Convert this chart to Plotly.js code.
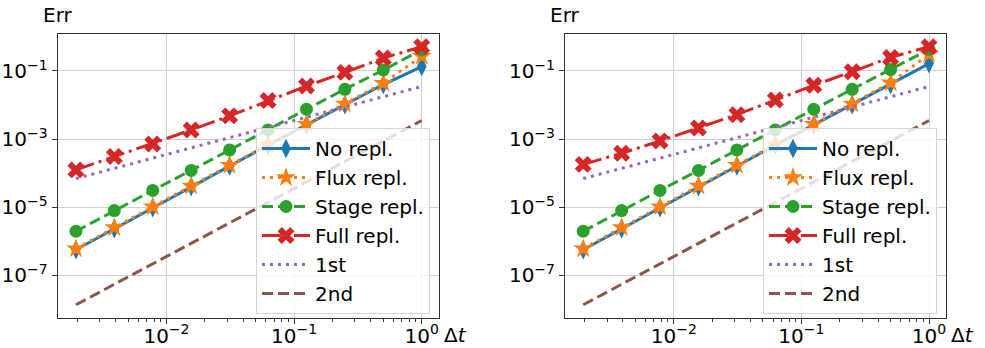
<!DOCTYPE html>
<html>
<head>
<meta charset="utf-8">
<script src="https://cdn.plot.ly/plotly-3.0.1.min.js"></script>
<style>html,body{margin:0;padding:0;background:#fff;}#chart{width:985px;height:348px;}</style>
</head>
<body>
<div id="chart"></div>
<script>
// ---- data ----
const dt = [0.001953125, 0.00390625, 0.0078125, 0.015625, 0.03125, 0.0625, 0.125, 0.25, 0.5, 1];

const noReplL    = [5.6e-7, 2.3e-6, 9.6e-6, 4.0e-5, 1.62e-4, 6.6e-4, 2.6e-3, 1.02e-2, 4.0e-2, 0.135];
const fluxReplL  = [6.0e-7, 2.5e-6, 1.02e-5, 4.2e-5, 1.7e-4, 6.8e-4, 2.7e-3, 1.08e-2, 4.4e-2, 0.27];
const stageReplL = [1.95e-6, 7.9e-6, 3.1e-5, 1.2e-4, 4.8e-4, 1.85e-3, 7.5e-3, 2.9e-2, 0.107, 0.42];
const fullReplL  = [1.24e-4, 3.05e-4, 7.2e-4, 1.85e-3, 4.8e-3, 1.35e-2, 3.6e-2, 9.1e-2, 0.24, 0.52];

const noReplR    = [5.6e-7, 2.3e-6, 9.6e-6, 4.0e-5, 1.62e-4, 6.6e-4, 2.6e-3, 1.02e-2, 4.0e-2, 0.165];
const fluxReplR  = [6.0e-7, 2.5e-6, 1.02e-5, 4.2e-5, 1.7e-4, 6.8e-4, 2.7e-3, 1.08e-2, 4.5e-2, 0.31];
const stageReplR = [1.95e-6, 7.9e-6, 3.1e-5, 1.2e-4, 4.8e-4, 1.85e-3, 7.5e-3, 2.9e-2, 0.11, 0.43];
const fullReplR  = [1.8e-4, 3.8e-4, 8.8e-4, 2.1e-3, 5.2e-3, 1.4e-2, 3.8e-2, 9.5e-2, 0.25, 0.52];

const firstOrder  = [6.9e-5, 1.38e-4, 2.75e-4, 5.5e-4, 1.1e-3, 2.2e-3, 4.4e-3, 8.8e-3, 1.76e-2, 3.5e-2];
const secondOrder = [1.35e-8, 5.4e-8, 2.15e-7, 8.6e-7, 3.4e-6, 1.37e-5, 5.5e-5, 2.2e-4, 8.8e-4, 3.5e-3];

const seriesNames = ["No repl.", "Flux repl.", "Stage repl.", "Full repl.", "1st", "2nd"];
const xTickVals = [0.01, 0.1, 1];
const xTickText = ["10<sup>\u22122</sup>", "10<sup>\u22121</sup>", "10<sup>0</sup>"];
const xMinorTicks = [0.002, 0.003, 0.004, 0.005, 0.006, 0.007, 0.008, 0.009,
                     0.02, 0.03, 0.04, 0.05, 0.06, 0.07, 0.08, 0.09,
                     0.2, 0.3, 0.4, 0.5, 0.6, 0.7, 0.8, 0.9];
const yTickVals = [1e-7, 1e-5, 1e-3, 1e-1];
const yTickText = ["10<sup>\u22127</sup>", "10<sup>\u22125</sup>", "10<sup>\u22123</sup>", "10<sup>\u22121</sup>"];
const yLabel = "Err";
const xLabel = "Δ<i>t</i>";

// ---- styles ----
const colors = ["#1f77b4", "#ff7f0e", "#2ca02c", "#d62728", "#9467bd", "#8c564b"];
const styles = [
  {line: {color: colors[0], width: 3, dash: "solid"}, marker: {symbol: "diamond-tall", size: 14, color: colors[0]}},
  {line: {color: colors[1], width: 3, dash: "3px,5px"}, marker: {symbol: "star", size: 15, color: colors[1]}},
  {line: {color: colors[2], width: 3, dash: "11px,5px"}, marker: {symbol: "circle", size: 13, color: colors[2]}},
  {line: {color: colors[3], width: 3, dash: "19px,5px,3px,5px"}, marker: {symbol: "x", size: 15, color: colors[3]}},
  {line: {color: colors[4], width: 3, dash: "3px,5px"}},
  {line: {color: colors[5], width: 3, dash: "11px,5px"}}
];

function mk(ys, xa, ya, leg) {
  return ys.map((y, i) => Object.assign({
    type: "scatter",
    x: dt, y: y,
    name: seriesNames[i],
    mode: styles[i].marker ? "lines+markers" : "lines",
    xaxis: xa, yaxis: ya,
    legend: leg,
    legendgroup: leg + "_" + i
  }, JSON.parse(JSON.stringify(styles[i]))));
}

const traces = []
  .concat(mk([noReplL, fluxReplL, stageReplL, fullReplL, firstOrder, secondOrder], "x", "y", "legend"))
  .concat(mk([noReplR, fluxReplR, stageReplR, fullReplR, firstOrder, secondOrder], "x2", "y2", "legend2"));

const font = {family: "DejaVu Sans", size: 20, color: "#000"};
const W = 985, H = 348;

function xax(domain, anchor) {
  return {
    type: "log", domain: domain, anchor: anchor,
    range: [-2.852, 0.133],
    tickmode: "array", tickvals: xTickVals, ticktext: xTickText,
    showgrid: true, gridcolor: "#d0d0d0", gridwidth: 1,
    zeroline: false,
    showline: true, linecolor: "#333", linewidth: 1, mirror: true,
    ticks: "outside", ticklen: 5, tickwidth: 1, tickcolor: "#333",
    ticklabelstandoff: -5,
    minor: {tickmode: "array", tickvals: xMinorTicks, ticks: "outside", ticklen: 3, tickwidth: 1, tickcolor: "#333", showgrid: false},
    tickfont: font
  };
}
function yax(domain, anchor) {
  return {
    type: "log", domain: domain, anchor: anchor,
    range: [-8.25, 0.078],
    tickmode: "array", tickvals: yTickVals, ticktext: yTickText,
    showgrid: true, gridcolor: "#d0d0d0", gridwidth: 1,
    zeroline: false,
    showline: true, linecolor: "#333", linewidth: 1, mirror: true,
    ticks: "outside", ticklen: 5, tickwidth: 1, tickcolor: "#333",
    tickfont: font
  };
}

const yDom = [(H - 317.7) / H, (H - 34.3) / H];
const leg = {
  font: font, bgcolor: "rgba(255,255,255,0.8)", bordercolor: "#d6d6d6", borderwidth: 1,
  xanchor: "left", yanchor: "top", tracegroupgap: 0, itemwidth: 48
};

const layout = {
  width: W, height: H,
  margin: {l: 0, r: 0, t: 0, b: 0},
  paper_bgcolor: "#fff", plot_bgcolor: "#fff",
  font: font,
  showlegend: true,
  xaxis: xax([57.7 / W, 438.7 / W], "y"),
  yaxis: yax(yDom, "x"),
  xaxis2: xax([565 / W, 946 / W], "y2"),
  yaxis2: yax(yDom, "x2"),
  legend: Object.assign({x: 256 / W, y: (H - 128) / H}, leg),
  legend2: Object.assign({x: 763 / W, y: (H - 128) / H}, leg),
  annotations: [
    {text: yLabel, xref: "paper", yref: "paper", x: 57.7 / W, y: (H - 15) / H, showarrow: false, xanchor: "center", yanchor: "middle", font: font},
    {text: yLabel, xref: "paper", yref: "paper", x: 565 / W, y: (H - 15) / H, showarrow: false, xanchor: "center", yanchor: "middle", font: font},
    {text: xLabel, xref: "paper", yref: "paper", x: 455 / W, y: (H - 335) / H, showarrow: false, xanchor: "center", yanchor: "middle", font: font},
    {text: xLabel, xref: "paper", yref: "paper", x: 962 / W, y: (H - 335) / H, showarrow: false, xanchor: "center", yanchor: "middle", font: font}
  ]
};

Plotly.newPlot("chart", traces, layout, {staticPlot: true, displayModeBar: false});
</script>
</body>
</html>
